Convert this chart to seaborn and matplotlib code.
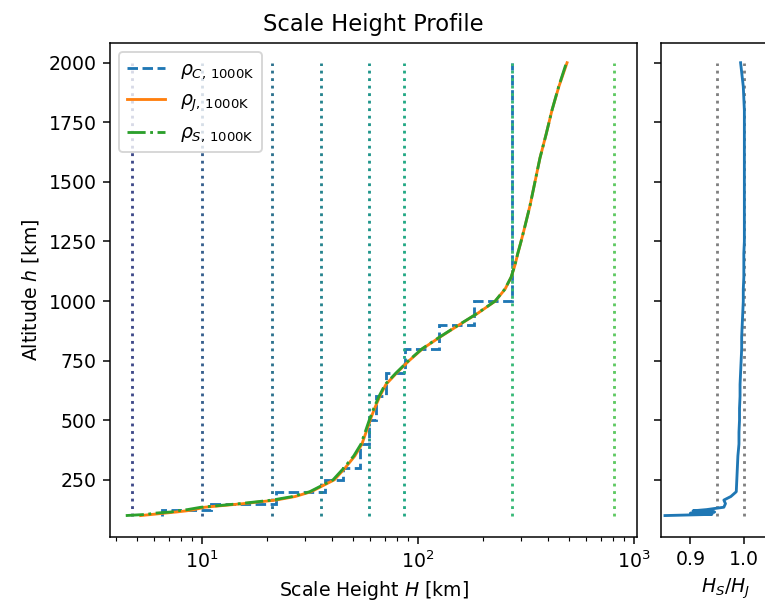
import numpy as np
import matplotlib
matplotlib.use("Agg")
import matplotlib.pyplot as plt
import seaborn as sns

# Altitude grid [km] and the smooth scale-height profile H_J [km]
altitude = [100, 105, 110, 115, 120, 125, 135, 150, 165, 180, 200, 250, 300,
            350, 400, 450, 500, 550, 600, 650, 700, 750, 800, 850, 900, 950,
            1000, 1050, 1100, 1150, 1200, 1250, 1300, 1400, 1500, 1600, 1700,
            1800, 1900, 2000]
H_J = [5.2, 5.9, 6.7, 7.6, 8.5, 9.2, 10.3, 15.5, 22, 27, 32, 41, 46,
       51, 55, 57.5, 60, 63, 66.5, 71, 80, 91, 105, 127, 155, 190,
       228, 253, 270, 281, 290, 300, 310, 330, 348, 367, 392,
       417, 449, 490]
# Ratio H_S / H_J on the same altitude grid
ratio_SJ = [0.853, 0.94, 0.90, 0.945, 0.905, 0.93, 0.962, 0.965, 0.962, 0.975,
            0.985, 0.986, 0.987, 0.988, 0.990, 0.990, 0.991, 0.991, 0.992, 0.992,
            0.993, 0.994, 0.995, 0.995, 0.996, 0.997, 0.998, 0.998, 0.999, 0.999,
            0.999, 1.0, 1.0, 1.0, 1.0, 1.0, 1.0, 1.0, 0.998, 0.993]

# Layered (piecewise constant) scale height
layer_edges = [100, 125, 150, 200, 250, 300, 400, 500, 600, 700, 800, 900, 1000, 2000]
H_C = [6.5, 11, 22, 37, 45, 54, 59, 64, 71, 87, 125, 182, 272]

# Reference scale heights of individual species [km]
species_H = [4.74, 10, 21.1, 35.6, 59.3, 86.1, 272, 807]

# Reference ratio levels
ratio_refs = [0.95, 1.0]

H_S = np.array(H_J) * np.array(ratio_SJ)

DPI = 136
fig = plt.figure(figsize=(765 / DPI, 604 / DPI), dpi=DPI)
ax = fig.add_axes([0.1438, 0.1109, 0.6895, 0.8184])
ax2 = fig.add_axes([0.8641, 0.1109, 0.17, 0.8184])

ax.set_xscale("log")
species_colors = plt.get_cmap("viridis")(np.linspace(0.22, 0.75, len(species_H)))
for Hs, c in zip(species_H, species_colors):
    ax.vlines(Hs, altitude[0], altitude[-1], colors=[c], linestyles=":", linewidth=1.5)

ax.stairs(H_C, layer_edges, orientation="horizontal", baseline=None,
          color="C0", linestyle="--", linewidth=1.5,
          label=r"$\rho_{C,\,\mathrm{1000K}}$")
sns.lineplot(x=H_J, y=altitude, orient="y", sort=False, estimator=None, ax=ax,
             color="C1", linewidth=1.5, label=r"$\rho_{J,\,\mathrm{1000K}}$")
sns.lineplot(x=list(H_S), y=altitude, orient="y", sort=False, estimator=None, ax=ax,
             color="C2", linestyle="-.", linewidth=1.5,
             label=r"$\rho_{S,\,\mathrm{1000K}}$")

ax.set_xlim(3.75, 1038)
ax.set_ylim(10, 2084)
ax.set_yticks([250, 500, 750, 1000, 1250, 1500, 1750, 2000])
ax.set_xlabel(r"Scale Height $H$ [km]")
ax.set_ylabel(r"Altitude $h$ [km]")
ax.set_title("Scale Height Profile")
ax.legend(loc="upper left")

# Ratio panel
for r in ratio_refs:
    ax2.vlines(r, altitude[0], altitude[-1], colors="gray", linestyles=":", linewidth=1.5)
sns.lineplot(x=ratio_SJ, y=altitude, orient="y", sort=False, estimator=None, ax=ax2,
             color="C0", linewidth=1.5)
ax2.set_xlim(0.8457, 1.0865)
ax2.set_ylim(10, 2084)
ax2.set_yticks([250, 500, 750, 1000, 1250, 1500, 1750, 2000])
ax2.set_xticks([0.9, 1.0])
ax2.tick_params(labelleft=False)
ax2.set_ylabel("")
ax2.set_xlabel(r"$H_S/H_J$")

fig.savefig("out.png", dpi=DPI)
